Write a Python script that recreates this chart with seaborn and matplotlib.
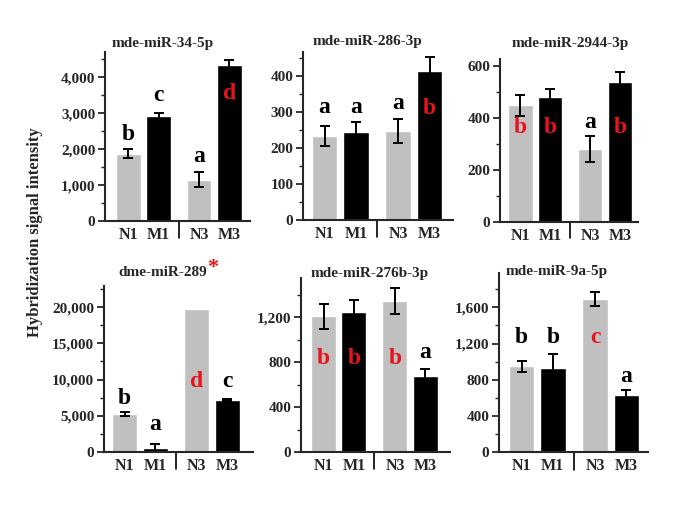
import matplotlib
matplotlib.use("Agg")
import matplotlib.pyplot as plt
import matplotlib.ticker as mticker
import matplotlib.transforms as mtransforms
import numpy as np
import pandas as pd
import seaborn as sns

# ---- data ----
groups = ["N1", "M1", "N3", "M3"]
xpos = [0, 1, 2.35, 3.35]

titles = ["mde-miR-34-5p", "mde-miR-286-3p", "mde-miR-2944-3p",
          "dme-miR-289", "mde-miR-276b-3p", "mde-miR-9a-5p"]

means = [
    [1870, 2920, 1150, 4330],
    [233, 244, 247, 415],
    [450, 483, 283, 540],
    [5250, 600, 19700, 7200],
    [1210, 1250, 1345, 680],
    [950, 930, 1690, 630],
]
errors = [
    [120, 70, 200, 150],
    [28, 28, 33, 38],
    [40, 28, 50, 37],
    [300, 500, 0, 150],
    [110, 105, 120, 60],
    [60, 150, 75, 55],
]
letters = [
    ["b", "c", "a", "d"],
    ["a", "a", "a", "b"],
    ["b", "b", "a", "b"],
    ["b", "a", "d", "c"],
    ["b", "b", "b", "a"],
    ["b", "b", "c", "a"],
]
letter_red = [
    [0, 0, 0, 1],
    [0, 0, 0, 1],
    [1, 1, 0, 1],
    [0, 0, 1, 0],
    [1, 1, 1, 0],
    [0, 0, 1, 0],
]

# ---- layout (pixels of a 685x513 figure) ----
W, H = 685, 513
# left, top, right, bottom of each axes box
boxes = [
    (105, 52, 250, 221), (303, 52, 453, 220), (500, 59, 638, 222),
    (104, 286, 253, 452), (301, 278, 450, 452), (499, 273, 648, 452),
]
ylims = [4700, 468, 628, 22900, 1550, 1980]
major = [1000, 100, 200, 5000, 400, 400]
xlims = [(-0.78, 4.04), (-0.69, 4.1), (-0.69, 3.96),
         (-0.67, 4.19), (-0.74, 4.16), (-0.72, 4.04)]
letter_y = [
    [0.509, 0.740, 0.379, 0.757],
    [0.667, 0.667, 0.696, 0.661],
    [0.577, 0.577, 0.613, 0.577],
    [0.325, 0.163, 0.422, 0.422],
    [0.540, 0.540, 0.540, 0.569],
    [0.637, 0.637, 0.642, 0.419],
]
title_x = [163, 367, 570, 163, 370, 557]
title_y = [44, 42, 44, 272, 273, 272]

sns.set_theme(style="ticks")
plt.rcParams["font.family"] = ["Liberation Serif", "DejaVu Serif"]
plt.rcParams["font.weight"] = "bold"

palette = {"N1": "#c0c0c0", "M1": "#000000", "N3": "#c0c0c0", "M3": "#000000"}
red = "#e8141b"

fig = plt.figure(figsize=(W / 100, H / 100), dpi=100)

for i in range(6):
    l, t, r, b = boxes[i]
    ax = fig.add_axes([l / W, 1 - b / H, (r - l) / W, (b - t) / H])

    df = pd.DataFrame({"x": xpos, "val": means[i], "grp": groups})
    sns.barplot(data=df, x="x", y="val", hue="grp", palette=palette,
                native_scale=True, dodge=False, width=0.82, legend=False,
                saturation=1, errorbar=None, ax=ax)

    err = np.array(errors[i])
    m = err > 0
    ax.errorbar(np.array(xpos)[m], np.array(means[i])[m], yerr=err[m],
                fmt="none", ecolor="black", elinewidth=1.4, capsize=3.5,
                capthick=1.4)

    ax.set_xlim(*xlims[i])
    ax.set_ylim(0, ylims[i])
    ax.set_xticks(xpos)
    ax.set_xticklabels(groups, fontsize=11.5, fontweight="bold")
    ax.tick_params(axis="x", length=0, pad=4)
    ax.yaxis.set_major_locator(mticker.MultipleLocator(major[i]))
    ax.yaxis.set_minor_locator(mticker.MultipleLocator(major[i] / 2))
    ax.yaxis.set_major_formatter(mticker.StrMethodFormatter("{x:,.0f}"))
    ax.tick_params(axis="y", which="major", length=5, width=1.3,
                   labelsize=11, pad=2)
    ax.tick_params(axis="y", which="minor", length=3, width=1)
    for lab in ax.get_yticklabels():
        lab.set_fontweight("bold")
    ax.set_xlabel("")
    ax.set_ylabel("")
    sns.despine(ax=ax)
    for s in ("left", "bottom"):
        ax.spines[s].set_linewidth(1.5)

    # group divider below the x axis
    trans = mtransforms.blended_transform_factory(ax.transData, ax.transAxes)
    xd = (xpos[1] + xpos[2]) / 2
    ax.plot([xd, xd], [0, -0.1], color="black", lw=1.2,
            transform=trans, clip_on=False)

    # significance letters
    for j in range(4):
        ax.text(xpos[j], letter_y[i][j], letters[i][j], transform=trans,
                ha="center", va="center", fontsize=17, fontweight="bold",
                color=red if letter_red[i][j] else "black")

    fig.text(title_x[i] / W, 1 - title_y[i] / H, titles[i], ha="center",
             va="center", fontsize=11, fontweight="bold")

fig.text(213 / W, 1 - 268 / H, "*", ha="center", va="center",
         fontsize=16, fontweight="bold", color=red)

fig.text(35 / W, 1 - 232 / H, "Hybridization signal intensity",
         rotation=90, ha="center", va="center", fontsize=12,
         fontweight="bold")

fig.savefig("out.png", dpi=100)
